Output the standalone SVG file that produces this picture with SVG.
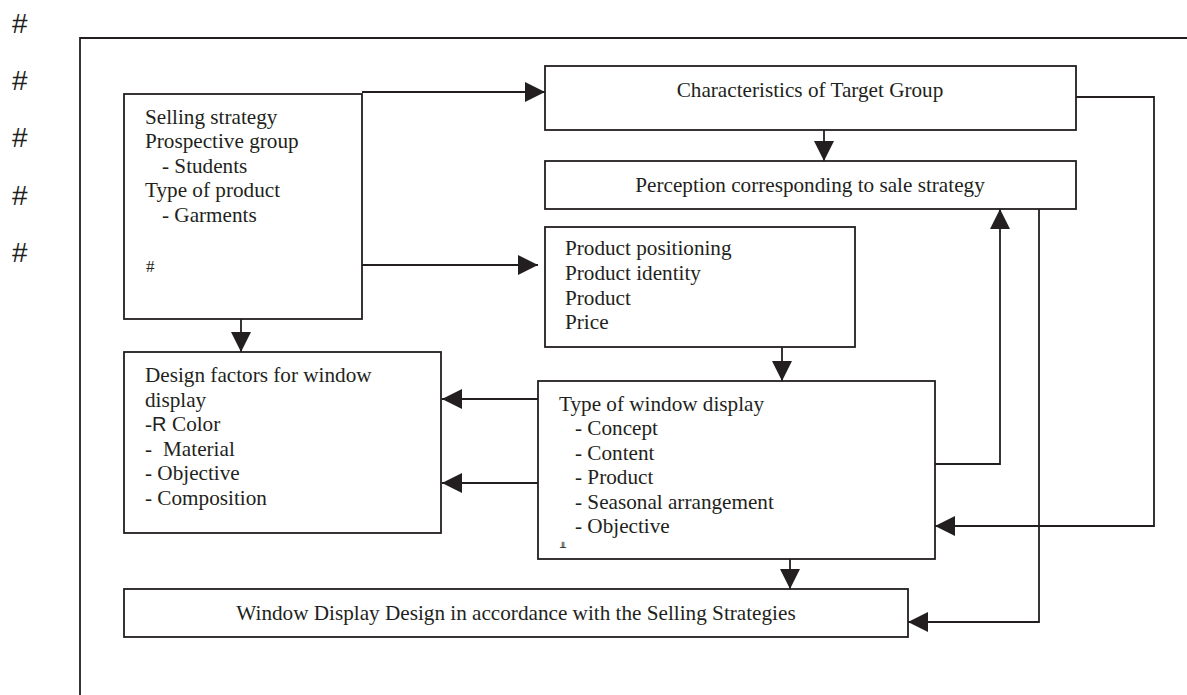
<svg xmlns="http://www.w3.org/2000/svg" width="1187" height="695" viewBox="0 0 1187 695">
<style>
.box{fill:#fff;stroke:#231f20;stroke-width:1.8}
.t{font-family:"Liberation Serif","Times New Roman",serif;font-size:21.2px;fill:#231f20}
.c{text-anchor:middle}
.s{font-family:"Liberation Sans",Arial,sans-serif}
.hash{font-family:"Liberation Sans",Arial,sans-serif;font-size:28px;fill:#231f20}
.ln{fill:none;stroke:#231f20;stroke-width:1.8}
</style>
<defs>
<marker id="ah" markerUnits="userSpaceOnUse" markerWidth="21" markerHeight="21" refX="20" refY="10" orient="auto">
<path d="M0,0 L20,10 L0,20 z" fill="#231f20"/>
</marker>
</defs>
<rect width="1187" height="695" fill="#fff"/>
<g id="margin">
<text class="hash" x="12" y="33">#</text>
<text class="hash" x="12" y="90">#</text>
<text class="hash" x="12" y="147">#</text>
<text class="hash" x="12" y="205">#</text>
<text class="hash" x="12" y="262">#</text>
</g>
<g id="frame"><path class="ln" d="M80,695 V38 H1187"/></g>
<g id="connectors">
<path class="ln" d="M362,92 H545" marker-end="url(#ah)"/>
<path class="ln" d="M362,265 H538" marker-end="url(#ah)"/>
<path class="ln" d="M824,130 V161" marker-end="url(#ah)"/>
<path class="ln" d="M782,347 V381" marker-end="url(#ah)"/>
<path class="ln" d="M241,319 V352" marker-end="url(#ah)"/>
<path class="ln" d="M538,399 H442" marker-end="url(#ah)"/>
<path class="ln" d="M538,483 H442" marker-end="url(#ah)"/>
<path class="ln" d="M790,559 V589" marker-end="url(#ah)"/>
<path class="ln" d="M1076,97 H1154 V526 H935" marker-end="url(#ah)"/>
<path class="ln" d="M1039,209 V622 H908" marker-end="url(#ah)"/>
<path class="ln" d="M935,464 H1000 V209" marker-end="url(#ah)"/>
</g>
<g id="selling">
<rect class="box" x="124" y="94" width="238" height="225"/>
<text class="t" x="145" y="124">Selling strategy</text>
<text class="t" x="145" y="148">Prospective group</text>
<text class="t" x="162" y="173">- Students</text>
<text class="t" x="145" y="197">Type of product</text>
<text class="t" x="162" y="222">- Garments</text>
<text class="t" x="146" y="272" style="font-size:17px">#</text>
</g>
<g id="characteristics">
<rect class="box" x="545" y="66" width="531" height="64"/>
<text class="t c" x="810" y="97">Characteristics of Target Group</text>
</g>
<g id="perception">
<rect class="box" x="545" y="161" width="531" height="48"/>
<text class="t c" x="810" y="192">Perception corresponding to sale strategy</text>
</g>
<g id="product">
<rect class="box" x="545" y="227" width="310" height="120"/>
<text class="t" x="565" y="255">Product positioning</text>
<text class="t" x="565" y="280">Product identity</text>
<text class="t" x="565" y="305">Product</text>
<text class="t" x="565" y="329">Price</text>
</g>
<g id="design">
<rect class="box" x="124" y="352" width="317" height="181"/>
<text class="t" x="145" y="382">Design factors for window</text>
<text class="t" x="145" y="407">display</text>
<text class="t" x="145" y="431">-<tspan class="s" x="152" style="font-size:20px">R</tspan><tspan x="172">Color</tspan></text>
<text class="t" x="145" y="456">-<tspan x="163">Material</tspan></text>
<text class="t" x="145" y="480">- Objective</text>
<text class="t" x="145" y="505">- Composition</text>
</g>
<g id="type">
<rect class="box" x="538" y="381" width="397" height="178"/>
<text class="t" x="559" y="411">Type of window display</text>
<text class="t" x="575" y="435">- Concept</text>
<text class="t" x="575" y="460">- Content</text>
<text class="t" x="575" y="484">- Product</text>
<text class="t" x="575" y="509">- Seasonal arrangement</text>
<text class="t" x="575" y="533">- Objective</text>
<text x="560" y="551" style="font-family:'DejaVu Sans',sans-serif;font-size:10px;fill:#231f20">╨</text>
</g>
<g id="window">
<rect class="box" x="124" y="589" width="784" height="48"/>
<text class="t c" x="516" y="620">Window Display Design in accordance with the Selling Strategies</text>
</g>
</svg>
